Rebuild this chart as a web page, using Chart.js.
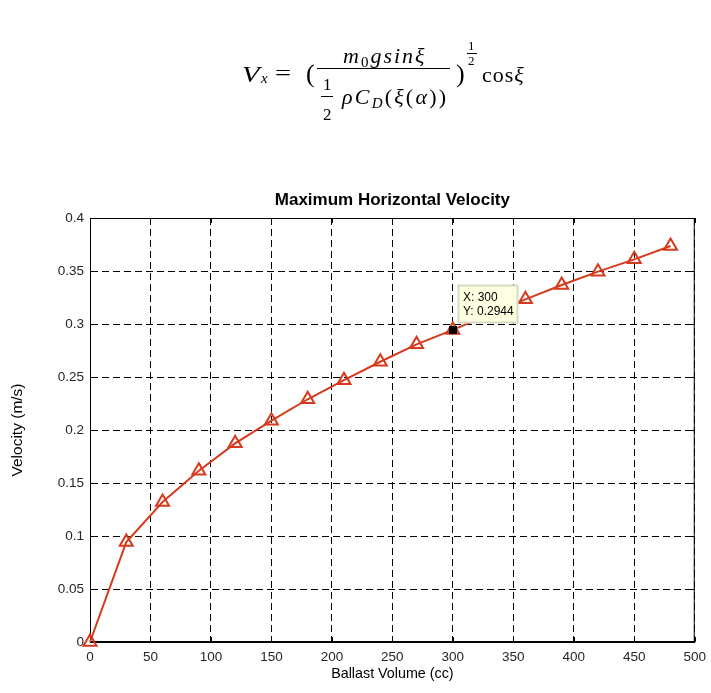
<!DOCTYPE html>
<html>
<head>
<meta charset="utf-8">
<script src="https://cdn.jsdelivr.net/npm/chart.js@4.4.0/dist/chart.umd.min.js"></script>
<style>
  html, body { margin: 0; padding: 0; background: #fff; }
  #wrap { position: relative; width: 711px; height: 693px; overflow: hidden; }
  #chart { position: absolute; left: 0; top: 0; }
  .eq { position: absolute; font-family: "Liberation Serif", "DejaVu Serif", serif; color: #000; line-height: 1; white-space: nowrap; }
  .it { font-style: italic; }
  .up { font-style: normal; }
  .bar { position: absolute; height: 1px; background: #000; }
</style>
</head>
<body>
<div id="wrap">
  <!-- canvas 2px wider than the page: chart.js keeps room for the big end markers on the right -->
  <canvas id="chart" width="713" height="693"></canvas>

  <!-- formula -->
  <div class="eq it" style="left:242px; top:62.6px; font-size:23px; transform:scaleX(1.25); transform-origin:left;">V</div>
  <div class="eq it" style="left:261px; top:71.4px; font-size:15px;">x</div>
  <div class="eq" style="left:275px; top:61.6px; font-size:22px; transform:scaleX(1.3); transform-origin:left;">=</div>
  <div class="eq" style="left:306px; top:61px; font-size:26px;">(</div>
  <div class="eq it" style="left:343px; top:44.6px; font-size:22px; letter-spacing:2px;">m<span class="up" style="font-size:15px;position:relative;top:4px;">0</span>gsinξ</div>
  <div class="bar" style="left:317px; top:68px; width:133px;"></div>
  <div class="eq" style="left:323px; top:75.8px; font-size:17px;">1</div>
  <div class="bar" style="left:321px; top:96px; width:12px;"></div>
  <div class="eq" style="left:323px; top:105.8px; font-size:17px;">2</div>
  <div class="eq it" style="left:342px; top:85.6px; font-size:22px; letter-spacing:2.2px;">ρC<span style="font-size:15px;position:relative;top:4px;">D</span><span class="up">(</span>ξ<span class="up">(</span>α<span class="up">))</span></div>
  <div class="eq" style="left:456px; top:61px; font-size:26px;">)</div>
  <div class="eq" style="left:468px; top:39px; font-size:13px;">1</div>
  <div class="bar" style="left:467px; top:53px; width:10px;"></div>
  <div class="eq" style="left:468px; top:54px; font-size:13px;">2</div>
  <div class="eq" style="left:482px; top:63.6px; font-size:22px; letter-spacing:1px;">cos<span class="it">ξ</span></div>
</div>

<script>
// ballast volume (cc) and max horizontal velocity (m/s)
const ballast = [0, 30, 60, 90, 120, 150, 180, 210, 240, 270, 300, 330, 360, 390, 420, 450, 480];
const velocity = [0, 0.0943, 0.132, 0.1616, 0.1874, 0.2088, 0.229, 0.247, 0.2644, 0.2808, 0.2944, 0.309, 0.3233, 0.3368, 0.3494, 0.361, 0.3736];

// data tip shown on the plot
const tipIndex = 10;
const tipLabels = ['X: 300', 'Y: 0.2944'];

const lineColor = '#d63a1c';
const tickFont = { family: '"Liberation Sans", Arial, sans-serif', size: 13.5 };

// solid axes box + inward tick marks like matlab
const axesBox = {
  id: 'axesBox',
  beforeDatasetsDraw(chart) {
    const { ctx, chartArea: a, scales } = chart;
    ctx.save();
    ctx.strokeStyle = '#000';
    ctx.lineWidth = 1;
    ctx.setLineDash([]);
    ctx.strokeRect(a.left + 0.5, a.top + 0.5, a.right - a.left - 1, a.bottom - a.top - 1);
    ctx.beginPath();
    scales.x.ticks.forEach(t => {
      const px = Math.round(scales.x.getPixelForValue(t.value)) + 0.5;
      ctx.moveTo(px, a.bottom); ctx.lineTo(px, a.bottom - 5);
      ctx.moveTo(px, a.top); ctx.lineTo(px, a.top + 5);
    });
    scales.y.ticks.forEach(t => {
      const py = Math.round(scales.y.getPixelForValue(t.value)) + 0.5;
      ctx.moveTo(a.left, py); ctx.lineTo(a.left + 5, py);
      ctx.moveTo(a.right, py); ctx.lineTo(a.right - 5, py);
    });
    ctx.stroke();
    ctx.restore();
  }
};

const dataTip = {
  id: 'dataTip',
  afterDatasetsDraw(chart) {
    const { ctx, scales } = chart;
    const px = Math.round(scales.x.getPixelForValue(ballast[tipIndex]));
    const py = Math.round(scales.y.getPixelForValue(velocity[tipIndex]));
    ctx.save();
    ctx.fillStyle = '#000';
    ctx.fillRect(px - 4, py - 4, 8, 8);
    const bx = px + 5, by = py - 45;
    ctx.fillStyle = '#ffffe1';
    ctx.fillRect(bx, by, 60, 38);
    ctx.strokeStyle = '#d9d9c8';
    ctx.strokeRect(bx + 0.5, by + 0.5, 59, 37);
    ctx.fillStyle = '#000';
    ctx.font = '12px "Liberation Sans", Arial, sans-serif';
    ctx.textBaseline = 'middle';
    ctx.fillText(tipLabels[0], bx + 5, by + 13);
    ctx.fillText(tipLabels[1], bx + 5, by + 27);
    ctx.restore();
  }
};

new Chart(document.getElementById('chart'), {
  type: 'line',
  data: {
    datasets: [{
      data: ballast.map((b, i) => ({ x: b, y: velocity[i] })),
      borderColor: lineColor,
      borderWidth: 2,
      backgroundColor: 'rgba(0,0,0,0)',
      pointStyle: 'triangle',
      pointRadius: 7.5,
      pointBorderWidth: 2,
      pointBorderColor: lineColor,
      pointBackgroundColor: 'rgba(0,0,0,0)',
      tension: 0,
      clip: false
    }]
  },
  options: {
    responsive: false,
    animation: false,
    events: [],
    layout: { padding: { top: 190, right: 15, left: 0, bottom: 0 } },
    plugins: {
      legend: { display: false },
      tooltip: { enabled: false },
      title: {
        display: true,
        fullSize: false,
        text: 'Maximum Horizontal Velocity',
        color: '#000',
        font: { family: '"Liberation Sans", Arial, sans-serif', size: 17, weight: 'bold' },
        padding: { top: 0, bottom: 7.6 }
      }
    },
    scales: {
      x: {
        type: 'linear',
        min: 0, max: 500,
        afterFit: s => { s.height = 51; },
        ticks: { stepSize: 50, padding: 7, color: '#262626', font: tickFont, maxRotation: 0 },
        grid: { color: '#000', lineWidth: 1, drawTicks: false, tickLength: 0 },
        border: { display: true, color: '#000', dash: [7, 4] },
        title: {
          display: true, text: 'Ballast Volume (cc)', color: '#000',
          font: { family: '"Liberation Sans", Arial, sans-serif', size: 14.3 },
          padding: { top: 10.5, bottom: 10.5 }
        }
      },
      y: {
        min: 0, max: 0.4,
        afterFit: s => { s.width = 90; },
        ticks: {
          stepSize: 0.05, padding: 6, color: '#262626', font: tickFont,
          callback: v => String(+v.toFixed(2))
        },
        grid: { color: '#000', lineWidth: 1, drawTicks: false, tickLength: 0 },
        border: { display: true, color: '#000', dash: [7, 4] },
        title: {
          display: true, text: 'Velocity (m/s)', color: '#000',
          font: { family: '"Liberation Sans", Arial, sans-serif', size: 15.5 },
          padding: { top: 8, bottom: 8 }
        }
      }
    }
  },
  plugins: [axesBox, dataTip]
});
</script>
</body>
</html>
